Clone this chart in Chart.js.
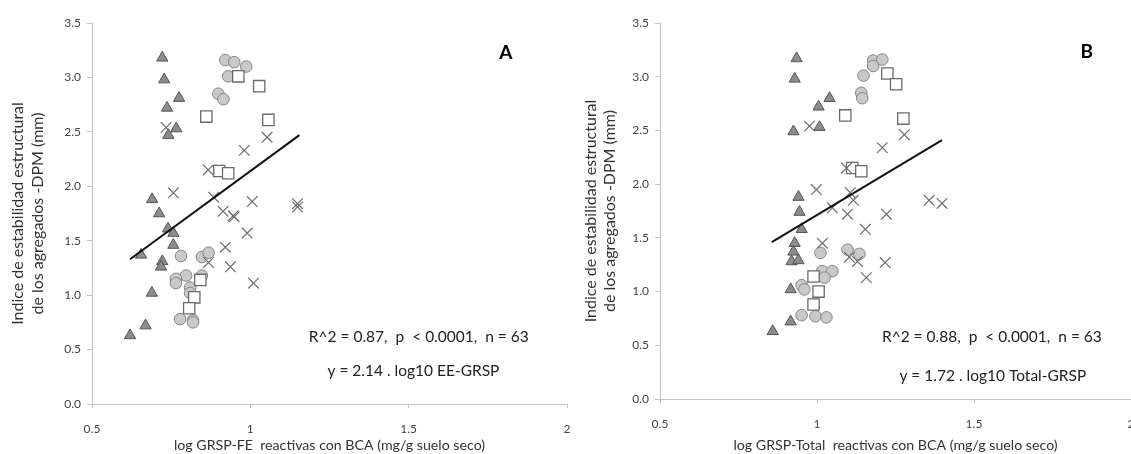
<!DOCTYPE html>
<html>
<head>
<meta charset="utf-8">
<script src="https://cdn.jsdelivr.net/npm/chart.js@4.4.0/dist/chart.umd.min.js"></script>
<style>
  html, body { margin: 0; padding: 0; background: #fff; overflow: hidden; width: 1131px; height: 454px; }
  .panel { position: absolute; top: 0; width: 600px; height: 454px; }
  #panelA { left: 0; }
  #panelB { left: 566px; }
</style>
</head>
<body>
<div class="panel" id="panelA"><canvas id="chartA" width="600" height="454"></canvas></div>
<div class="panel" id="panelB"><canvas id="chartB" width="600" height="454"></canvas></div>
<script>
// ---- Panel A : log GRSP-FE ----
const triA_x = [0.722, 0.728, 0.775, 0.737, 0.766, 0.741, 0.690, 0.712, 0.740, 0.757, 0.757, 0.655, 0.722, 0.718, 0.689, 0.669, 0.620];
const triA_y = [3.18, 2.98, 2.81, 2.72, 2.53, 2.47, 1.88, 1.75, 1.61, 1.57, 1.46, 1.37, 1.31, 1.26, 1.02, 0.72, 0.63];
const cirA_x = [0.921, 0.949, 0.987, 0.930, 0.899, 0.915, 0.781, 0.847, 0.868, 0.797, 0.765, 0.765, 0.847, 0.810, 0.810, 0.778, 0.819, 0.819];
const cirA_y = [3.16, 3.14, 3.10, 3.01, 2.85, 2.80, 1.36, 1.35, 1.39, 1.18, 1.15, 1.11, 1.18, 1.07, 1.02, 0.78, 0.77, 0.75];
const sqA_x = [0.962, 1.028, 0.861, 1.057, 0.902, 0.930, 0.842, 0.823, 0.807];
const sqA_y = [3.01, 2.92, 2.64, 2.61, 2.14, 2.12, 1.14, 0.98, 0.88];
const crsA_x = [0.734, 0.757, 0.867, 0.981, 1.053, 0.884, 0.914, 0.946, 0.949, 1.006, 1.149, 1.149, 0.990, 0.921, 0.937, 1.010, 0.868];
const crsA_y = [2.54, 1.94, 2.15, 2.33, 2.45, 1.90, 1.77, 1.73, 1.72, 1.86, 1.84, 1.81, 1.57, 1.44, 1.26, 1.11, 1.30];
const fitA_x = [0.62, 1.155];
const fitA_y = [1.33, 2.47];

// ---- Panel B : log GRSP-Total ----
const triB_x = [0.935, 0.929, 1.040, 1.005, 1.008, 0.925, 0.941, 0.944, 0.951, 0.929, 0.925, 0.919, 0.941, 0.916, 0.916, 0.859];
const triB_y = [3.17, 2.98, 2.80, 2.72, 2.53, 2.49, 1.88, 1.74, 1.58, 1.45, 1.37, 1.28, 1.29, 1.02, 0.72, 0.63];
const cirB_x = [1.179, 1.208, 1.179, 1.148, 1.141, 1.144, 1.011, 1.097, 1.135, 1.017, 1.049, 1.024, 0.951, 0.960, 0.951, 0.995, 1.030];
const cirB_y = [3.15, 3.16, 3.10, 3.01, 2.85, 2.80, 1.36, 1.39, 1.35, 1.19, 1.19, 1.13, 1.06, 1.02, 0.78, 0.77, 0.76];
const sqB_x = [1.224, 1.252, 1.090, 1.275, 1.112, 1.141, 0.989, 1.005, 0.989];
const sqB_y = [3.03, 2.93, 2.64, 2.61, 2.15, 2.12, 1.14, 1.00, 0.88];
const crsB_x = [0.976, 0.998, 1.049, 1.097, 1.094, 1.208, 1.278, 1.106, 1.116, 1.221, 1.357, 1.398, 1.154, 1.017, 1.103, 1.129, 1.217, 1.157];
const crsB_y = [2.54, 1.95, 1.78, 1.72, 2.15, 2.34, 2.46, 1.92, 1.85, 1.72, 1.85, 1.82, 1.58, 1.45, 1.32, 1.28, 1.27, 1.13];
const fitB_x = [0.856, 1.398];
const fitB_y = [1.46, 2.41];

// ---- axes / texts ----
const xTicks = [0.5, 1, 1.5, 2];
const yTicks = [0, 0.5, 1, 1.5, 2, 2.5, 3, 3.5];
const yTitle = ["Indice de estabilidad estructural", "de los agregados -DPM (mm)"];

const FONT = "Lato, 'Open Sans', sans-serif";

const toPoints = (xs, ys) => xs.map((x, i) => ({ x: x, y: ys[i] }));

// texto dentro del área del gráfico (estadísticos y letra del panel)
const notesPlugin = {
  id: "notes",
  afterDatasetsDraw(chart, args, opts) {
    const { ctx, scales } = chart;
    ctx.save();
    ctx.textAlign = "center";
    ctx.textBaseline = "middle";
    opts.items.forEach((it) => {
      ctx.font = it.font;
      ctx.fillStyle = it.color;
      ctx.fillText(it.text, scales.x.getPixelForValue(it.x), scales.y.getPixelForValue(it.y));
    });
    ctx.restore();
  },
};

function makeChart(id, p) {
  return new Chart(document.getElementById(id), {
    type: "scatter",
    data: {
      datasets: [
        {
          type: "line",
          data: toPoints(p.fitX, p.fitY),
          borderColor: "#111",
          borderWidth: 2,
          pointRadius: 0,
          order: 0,
        },
        {
          data: toPoints(p.crsX, p.crsY),
          pointStyle: "crossRot",
          pointRadius: 7.5,
          borderColor: "#6e6e6e",
          borderWidth: 1.2,
          order: 1,
        },
        {
          data: toPoints(p.sqX, p.sqY),
          pointStyle: "rect",
          pointRadius: 8,
          backgroundColor: "#ffffff",
          borderColor: "#6a6a6a",
          borderWidth: 1.3,
          order: 2,
        },
        {
          data: toPoints(p.cirX, p.cirY),
          pointStyle: "circle",
          pointRadius: 5.8,
          backgroundColor: "#c9c9c9",
          borderColor: "#858585",
          borderWidth: 1,
          order: 3,
        },
        {
          data: toPoints(p.triX, p.triY),
          pointStyle: "triangle",
          pointRadius: 6.5,
          backgroundColor: "#8c8c8c",
          borderColor: "#555555",
          borderWidth: 1,
          order: 4,
        },
      ],
    },
    options: {
      responsive: false,
      animation: false,
      layout: { padding: { top: 23, right: p.padRight, left: 0, bottom: 0 } },
      plugins: {
        legend: { display: false },
        tooltip: { enabled: false },
        notes: { items: p.notes },
      },
      scales: {
        x: {
          type: "linear",
          min: 0.5,
          max: 2,
          afterBuildTicks: (s) => { s.ticks = xTicks.map((v) => ({ value: v })); },
          afterFit: (s) => { s.height = p.xHeight; },
          grid: { drawOnChartArea: false, tickLength: 4, color: "#c4c4c4" },
          border: { color: "#c4c4c4" },
          ticks: {
            padding: 14,
            color: "#444",
            font: { family: FONT, size: 12 },
            callback: (v) => String(v),
          },
          title: {
            display: true,
            text: p.xTitle,
            color: "#333",
            padding: { top: 0, bottom: 0 },
            font: { family: FONT, size: 14.2 },
          },
        },
        y: {
          min: 0,
          max: 3.5,
          afterBuildTicks: (s) => { s.ticks = yTicks.map((v) => ({ value: v })); },
          afterFit: (s) => { s.width = p.yWidth; },
          grid: { drawOnChartArea: false, tickLength: 5, color: "#c4c4c4" },
          border: { color: "#c4c4c4" },
          ticks: {
            padding: 6,
            color: "#444",
            font: { family: FONT, size: 12 },
            callback: (v) => v.toFixed(1),
          },
          title: {
            display: true,
            text: yTitle,
            color: "#333",
            padding: { top: p.yTitlePad, bottom: 0 },
            font: { family: FONT, size: 16, lineHeight: 1.22 },
          },
        },
      },
    },
    plugins: [notesPlugin],
  });
}

makeChart("chartA", {
  triX: triA_x, triY: triA_y, cirX: cirA_x, cirY: cirA_y,
  sqX: sqA_x, sqY: sqA_y, crsX: crsA_x, crsY: crsA_y,
  fitX: fitA_x, fitY: fitA_y,
  xTitle: "log GRSP-FE  reactivas con BCA (mg/g suelo seco)",
  padRight: 33, xHeight: 50, yWidth: 92, yTitlePad: 8.5,
  notes: [
    { text: "R^2 = 0.87,  p  < 0.0001,  n = 63", x: 1.532, y: 0.615, font: "15.5px " + FONT, color: "#222" },
    { text: "y = 2.14 . log10 EE-GRSP", x: 1.515, y: 0.30, font: "15.5px " + FONT, color: "#222" },
    { text: "A", x: 1.807, y: 3.23, font: "bold 19px " + FONT, color: "#000" },
  ],
});

makeChart("chartB", {
  triX: triB_x, triY: triB_y, cirX: cirB_x, cirY: cirB_y,
  sqX: sqB_x, sqY: sqB_y, crsX: crsB_x, crsY: crsB_y,
  fitX: fitB_x, fitY: fitB_y,
  xTitle: "log GRSP-Total  reactivas con BCA (mg/g suelo seco)",
  padRight: 35, xHeight: 55, yWidth: 94, yTitlePad: 15,
  notes: [
    { text: "R^2 = 0.88,  p  < 0.0001,  n = 63", x: 1.557, y: 0.577, font: "15.5px " + FONT, color: "#222" },
    { text: "y = 1.72 . log10 Total-GRSP", x: 1.56, y: 0.21, font: "15.5px " + FONT, color: "#222" },
    { text: "B", x: 1.859, y: 3.23, font: "bold 19px " + FONT, color: "#000" },
  ],
});
</script>
</body>
</html>
